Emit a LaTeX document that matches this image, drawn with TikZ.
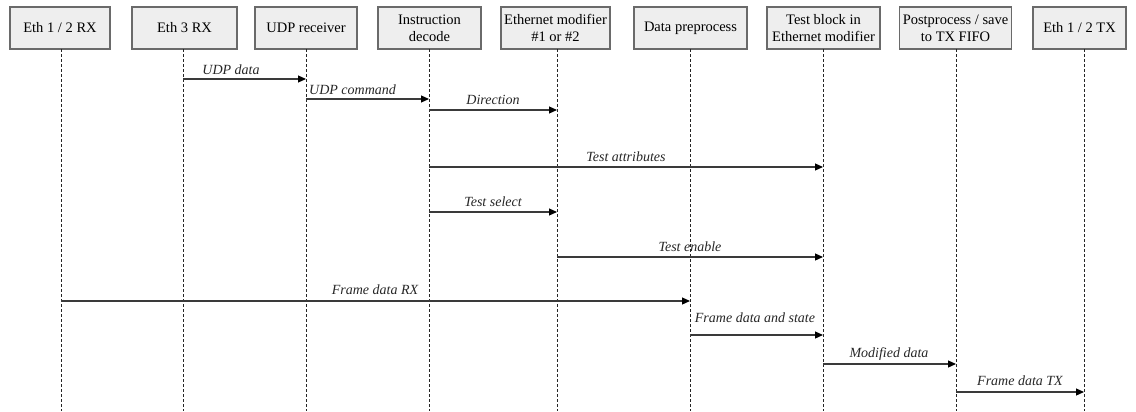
\documentclass[tikz,border=0pt]{standalone}
\usepackage{fontspec}
\setmainfont{Liberation Serif}
\usetikzlibrary{arrows.meta}
\definecolor{boxfill}{HTML}{EEEEEE}
\definecolor{boxline}{HTML}{6A6A6A}
\definecolor{msgline}{HTML}{3A3A3A}
\tikzset{
  actor/.style={draw=boxline, line width=1.2pt, fill=boxfill, minimum height=42pt,
    inner sep=0pt, align=center, font=\fontsize{14.5}{17}\selectfont},
  lifeline/.style={draw=black!85, line width=0.9pt, dash pattern=on 3pt off 2pt},
  msg/.style={draw=msgline, line width=1.2pt,
    -{Triangle[length=8pt,width=7pt,color=black]}},
  msglabel/.style={font=\fontsize{14}{16}\selectfont\itshape, text=black!85, inner sep=0pt}
}
\begin{document}
\begin{tikzpicture}[x=1pt,y=-1pt]
\useasboundingbox (0,0) rectangle (1136,412);

% participants
\node[actor, minimum width=100pt] (b1) at (60,28)    {Eth 1 / 2 RX};
\node[actor, minimum width=105pt] (b2) at (184.5,28) {Eth 3 RX};
\node[actor, minimum width=102pt] (b3) at (306,28)   {UDP receiver};
\node[actor, minimum width=103pt] (b4) at (429.5,28) {Instruction\\decode};
\node[actor, minimum width=109pt] (b5) at (555.5,28) {Ethernet modifier\\\#1 or \#2};
\node[actor, minimum width=113pt] (b6) at (690.5,28) {Data preprocess};
\node[actor, minimum width=113pt] (b7) at (823.5,28) {Test block in\\Ethernet modifier};
\node[actor, minimum width=112pt] (b8) at (955.5,28) {Postprocess / save\\to TX FIFO};
\node[actor, minimum width=93pt]  (b9) at (1079.5,28) {Eth 1 / 2 TX};

% lifeline ends
\coordinate (l1) at (61,49);   \coordinate (e1) at (61,411);
\coordinate (l2) at (183,49);  \coordinate (e2) at (183,411);
\coordinate (l3) at (306,49);  \coordinate (e3) at (306,411);
\coordinate (l4) at (429,49);  \coordinate (e4) at (429,411);
\coordinate (l5) at (557,49);  \coordinate (e5) at (557,411);
\coordinate (l6) at (690,49);  \coordinate (e6) at (690,411);
\coordinate (l7) at (823,49);  \coordinate (e7) at (823,411);
\coordinate (l8) at (956,49);  \coordinate (e8) at (956,411);
\coordinate (l9) at (1084,49); \coordinate (e9) at (1084,411);

\foreach \i in {1,...,9} { \draw[lifeline] (l\i) -- (e\i); }

% messages
\draw[msg] (l2 |- 0,79)  -- (l3 |- 0,79);
\node[msglabel] (m1) at (231,70) {UDP data};

\draw[msg] (l3 |- 0,99)  -- (l4 |- 0,99);
\node[msglabel, anchor=west] (m2) at (309,90) {UDP command};

\draw[msg] (l4 |- 0,110) -- (l5 |- 0,110);
\node[msglabel] (m3) at (493,100) {Direction};

\draw[msg] (l4 |- 0,167) -- (l7 |- 0,167);
\node[msglabel] (m4) at (626,157) {Test attributes};

\draw[msg] (l4 |- 0,212) -- (l5 |- 0,212);
\node[msglabel] (m5) at (493,202) {Test select};

\draw[msg] (l5 |- 0,257) -- (l7 |- 0,257);
\node[msglabel] (m6) at (690,247) {Test enable};

\draw[msg] (l1 |- 0,301) -- (l6 |- 0,301);
\node[msglabel] (m7) at (375,290) {Frame data RX};

\draw[msg] (l6 |- 0,335) -- (l7 |- 0,335);
\node[msglabel] (m8) at (755,318) {Frame data and state};

\draw[msg] (l7 |- 0,364) -- (l8 |- 0,364);
\node[msglabel] (m9) at (889,354) {Modified data};

\draw[msg] (l8 |- 0,392) -- (l9 |- 0,392);
\node[msglabel] (m10) at (1020,381) {Frame data TX};
\end{tikzpicture}
\end{document}
